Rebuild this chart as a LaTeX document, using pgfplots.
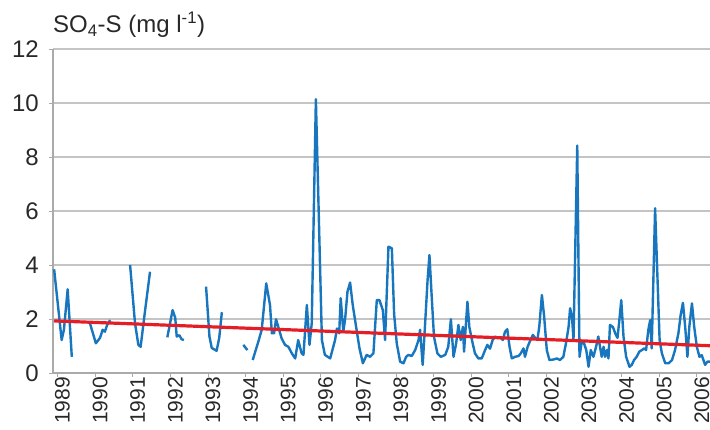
\documentclass[border=0pt]{standalone}
\usepackage{pgfplots}
\pgfplotsset{compat=1.18}
\usepackage{pgfplotstable}
\usepackage{fontspec}
\setmainfont{Liberation Sans}
\definecolor{lineblue}{RGB}{23,118,190}
\definecolor{trendred}{RGB}{228,30,38}
\definecolor{gridgray}{RGB}{196,196,196}
\definecolor{axisgray}{RGB}{170,170,170}
\definecolor{textgray}{RGB}{40,40,40}

\pgfplotstableread{
x y
1988.91 3.84
1989.11 1.22
1989.17 1.60
1989.27 3.10
1989.38 0.60
nan nan
1989.85 1.90
1990.02 1.10
1990.13 1.30
1990.20 1.60
1990.26 1.53
1990.32 1.78
1990.40 1.96
nan nan
1990.93 4.00
1991.06 1.85
1991.15 1.04
1991.21 0.97
1991.33 2.33
1991.46 3.75
nan nan
1991.92 1.32
1992.06 2.33
1992.13 2.05
1992.17 1.35
1992.24 1.40
1992.30 1.25
1992.36 1.22
nan nan
1992.95 3.20
1993.04 1.35
1993.10 0.93
1993.23 0.82
1993.30 1.30
1993.37 2.25
nan nan
1993.94 1.04
1994.05 0.85
nan nan
1994.19 0.48
1994.34 1.16
1994.43 1.60
1994.55 3.32
1994.65 2.52
1994.70 1.47
1994.76 1.48
1994.81 1.99
1994.87 1.71
1994.96 1.28
1995.05 1.04
1995.14 0.97
1995.23 0.73
1995.32 0.54
1995.40 1.22
1995.49 0.73
1995.54 0.67
1995.63 2.52
1995.70 1.04
1995.76 1.84
1995.87 10.14
1996.03 1.22
1996.11 0.67
1996.25 0.54
1996.38 1.22
1996.43 1.65
1996.49 1.47
1996.53 2.77
1996.60 1.53
1996.65 2.03
1996.71 3.01
1996.78 3.35
1996.85 2.52
1996.94 1.71
1997.03 0.91
1997.12 0.36
1997.22 0.67
1997.31 0.60
1997.40 0.73
1997.49 2.70
1997.56 2.70
1997.65 2.33
1997.71 1.22
1997.80 4.68
1997.89 4.62
1997.95 2.20
1998.02 1.10
1998.11 0.42
1998.20 0.36
1998.27 0.60
1998.33 0.67
1998.42 0.63
1998.51 0.85
1998.60 1.22
1998.64 1.60
1998.71 0.30
1998.77 1.71
1998.84 3.44
1998.89 4.37
1998.95 2.83
1999.01 1.35
1999.10 0.73
1999.19 0.60
1999.31 0.67
1999.39 0.97
1999.46 1.99
1999.53 0.60
1999.60 1.10
1999.66 1.78
1999.72 1.22
1999.78 1.71
1999.81 0.79
1999.90 2.64
1999.95 1.71
2000.02 1.22
2000.10 0.73
2000.19 0.54
2000.28 0.54
2000.37 0.85
2000.43 1.04
2000.50 0.90
2000.57 1.22
2000.64 1.35
2000.70 1.30
2000.77 1.33
2000.84 1.22
2000.90 1.53
2000.96 1.62
2001.02 0.97
2001.08 0.54
2001.17 0.60
2001.26 0.63
2001.32 0.73
2001.39 0.91
2001.43 0.60
2001.50 0.97
2001.57 1.20
2001.64 1.41
2001.70 1.30
2001.76 1.22
2001.81 1.71
2001.88 2.89
2001.94 2.09
2002.01 0.85
2002.08 0.48
2002.19 0.50
2002.28 0.54
2002.36 0.48
2002.45 0.60
2002.52 1.10
2002.59 1.71
2002.63 2.40
2002.68 2.09
2002.72 1.22
2002.82 8.42
2002.88 0.60
2002.94 1.16
2003.00 1.10
2003.06 0.85
2003.12 0.23
2003.18 0.85
2003.25 0.60
2003.32 0.97
2003.38 1.35
2003.47 0.60
2003.52 0.97
2003.56 0.60
2003.61 0.85
2003.65 0.54
2003.69 1.78
2003.77 1.70
2003.83 1.47
2003.89 1.30
2003.94 1.96
2003.99 2.70
2004.05 1.35
2004.12 0.60
2004.21 0.23
2004.27 0.30
2004.33 0.48
2004.40 0.60
2004.47 0.79
2004.54 0.85
2004.60 0.91
2004.65 0.85
2004.71 1.60
2004.76 1.96
2004.80 0.91
2004.89 6.10
2005.01 1.22
2005.07 0.73
2005.16 0.36
2005.25 0.36
2005.34 0.48
2005.42 0.85
2005.51 1.47
2005.57 2.15
2005.63 2.60
2005.69 1.71
2005.75 0.60
2005.80 1.71
2005.87 2.58
2005.93 1.71
2006.00 0.97
2006.07 0.60
2006.13 0.66
2006.22 0.30
2006.28 0.42
2006.35 0.42
}\sodata

\begin{document}
\begin{tikzpicture}
\begin{axis}[
  at={(0pt,0pt)}, anchor=south west,
  scale only axis,
  width=657pt, height=324pt,
  xmin=1988.88, xmax=2006.35,
  ymin=0, ymax=12,
  axis x line=bottom, axis y line=left,
  axis line style={-, axisgray, line width=1.2pt},
  xtick={1989,1990,...,2006},
  minor x tick num=11,
  ytick={0,2,...,12},
  ymajorgrids,
  major grid style={gridgray, line width=1.2pt},
  tick align=outside,
  major tick length=4pt, minor tick length=4pt,
  every tick/.style={axisgray, line width=0.8pt},
  tick style={axisgray},
  /pgf/number format/assume math mode=true,
  x tick label style={/pgf/number format/1000 sep={}},
  xticklabel style={rotate=90, anchor=east, inner sep=0pt, xshift=0pt, yshift=-5pt, font=\fontsize{21}{22}\selectfont, text=textgray},
  yticklabel style={anchor=east, inner sep=0pt, xshift=-10pt, font=\fontsize{24}{26}\selectfont, text=textgray},
  unbounded coords=jump,
  clip=false,
]
\addplot[lineblue, line width=2.4pt, line join=round] table[x=x, y=y] {\sodata};
\addplot[trendred, line width=3.2pt] coordinates {(1988.91,1.93) (2006.35,1.01)};
\end{axis}
\node[anchor=base west, inner sep=0pt, text=textgray, font=\fontsize{24}{26}\selectfont] at (0pt,340pt) {SO\textsubscript{4}-S (mg l\textsuperscript{-1})};
\pgfresetboundingbox
\path[use as bounding box] (-53pt,-57pt) rectangle (657pt,373pt);
\end{tikzpicture}
\end{document}
